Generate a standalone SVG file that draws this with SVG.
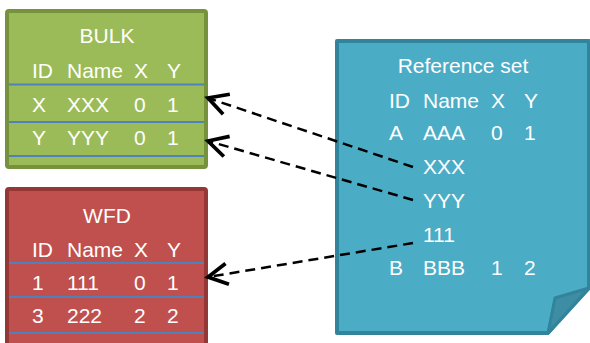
<svg xmlns="http://www.w3.org/2000/svg" width="590" height="343" viewBox="0 0 590 343">
<style>
text{font-family:"Liberation Sans",Arial,sans-serif;font-size:21px;fill:#fff}
.sep{stroke:#4F81BD;stroke-width:2}
.conn{stroke:#000;stroke-width:2.5;stroke-dasharray:10 6;fill:none}
</style>
<defs>
<marker id="arr" markerUnits="userSpaceOnUse" markerWidth="30" markerHeight="30" viewBox="-15 -10 20 20" refX="0" refY="0" orient="auto">
<path d="M-13,-7 L0,0 L-13,7" fill="none" stroke="#000" stroke-width="2.5"/>
</marker>
</defs>
<g id="bulk">
<rect x="7" y="11" width="199" height="156" rx="2" fill="#9BBB59" stroke="#76923C" stroke-width="4"/>
<line class="sep" x1="9" y1="84.5" x2="204" y2="84.5"/>
<line class="sep" x1="9" y1="122" x2="204" y2="122"/>
<line class="sep" x1="9" y1="156" x2="204" y2="156"/>
<text x="107" y="43" text-anchor="middle">BULK</text>
<text x="32" y="78">ID</text><text x="67" y="78">Name</text><text x="134" y="78">X</text><text x="167" y="78">Y</text>
<text x="32" y="112">X</text><text x="67" y="112">XXX</text><text x="134" y="112">0</text><text x="167" y="112">1</text>
<text x="32" y="145">Y</text><text x="67" y="145">YYY</text><text x="134" y="145">0</text><text x="167" y="145">1</text>
</g>
<g id="wfd">
<rect x="7" y="189" width="199" height="160" rx="2" fill="#C0504D" stroke="#953735" stroke-width="4"/>
<line class="sep" x1="9" y1="263" x2="204" y2="263"/>
<line class="sep" x1="9" y1="297" x2="204" y2="297"/>
<line class="sep" x1="9" y1="333" x2="204" y2="333"/>
<text x="107" y="223" text-anchor="middle">WFD</text>
<text x="32" y="257">ID</text><text x="67" y="257">Name</text><text x="134" y="257">X</text><text x="167" y="257">Y</text>
<text x="32" y="290">1</text><text x="67" y="290">111</text><text x="134" y="290">0</text><text x="167" y="290">1</text>
<text x="32" y="323">3</text><text x="67" y="323">222</text><text x="134" y="323">2</text><text x="167" y="323">2</text>
</g>
<g id="reference">
<path d="M337,41 H589 V288 L548,333 H337 Z" fill="#4BACC6" stroke="#31849B" stroke-width="4" stroke-linejoin="round"/>
<path d="M548,333 L555,298 L589,288 Z" fill="#3D8DA4" stroke="#31849B" stroke-width="3" stroke-linejoin="round"/>
<text x="463" y="73" text-anchor="middle">Reference set</text>
<text x="389" y="108">ID</text><text x="423" y="108">Name</text><text x="491" y="108">X</text><text x="524" y="108">Y</text>
<text x="389" y="140">A</text><text x="423" y="140">AAA</text><text x="491" y="140">0</text><text x="524" y="140">1</text>
<text x="423" y="174">XXX</text>
<text x="423" y="208">YYY</text>
<text x="423" y="242">111</text>
<text x="389" y="275">B</text><text x="423" y="275">BBB</text><text x="491" y="275">1</text><text x="524" y="275">2</text>
</g>
<g id="connectors">
<line class="conn" x1="413" y1="167" x2="208" y2="98" marker-end="url(#arr)"/>
<line class="conn" x1="413" y1="200" x2="208" y2="141" marker-end="url(#arr)"/>
<line class="conn" x1="413" y1="243" x2="208" y2="277" marker-end="url(#arr)"/>
</g>
</svg>
